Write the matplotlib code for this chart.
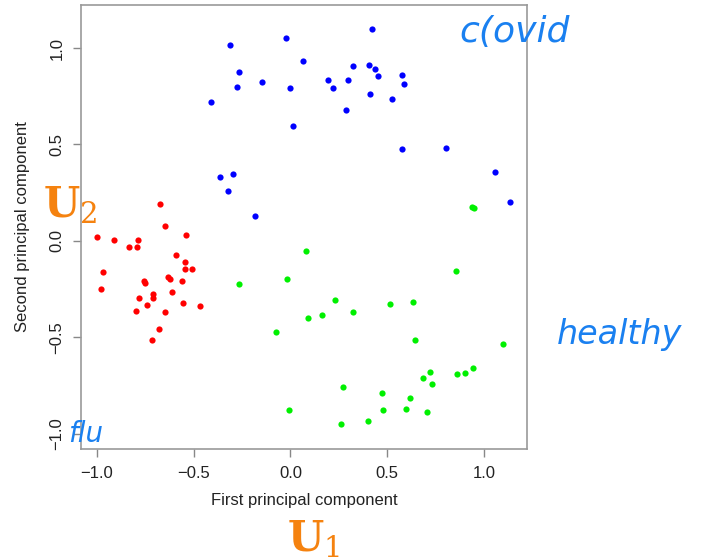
import matplotlib.pyplot as plt

# covid (blue)
covid_x = [-0.313, -0.025, -0.268, 0.066, -0.149, -0.275, -0.003, 0.195, 0.221, -0.411,
           0.015, -0.364, -0.297, -0.323, -0.183, 0.421, 0.325, 0.407, 0.438, 0.296,
           0.454, 0.578, 0.585, 0.411, 0.523, 0.285, 0.578, 0.805, 1.057, 1.136]
covid_y = [1.016, 1.050, 0.876, 0.934, 0.822, 0.800, 0.794, 0.833, 0.794, 0.720,
           0.596, 0.332, 0.347, 0.261, 0.131, 1.100, 0.908, 0.913, 0.893, 0.833,
           0.853, 0.858, 0.813, 0.760, 0.737, 0.680, 0.478, 0.483, 0.358, 0.202]

# flu (red)
flu_x = [-0.673, -0.647, -0.542, -0.998, -0.911, -0.788, -0.833, -0.793, -0.593, -0.547,
         -0.545, -0.507, -0.971, -0.756, -0.750, -0.635, -0.623, -0.559, -0.979, -0.709,
         -0.711, -0.614, -0.785, -0.743, -0.798, -0.554, -0.468, -0.649, -0.680, -0.714]
flu_y = [0.190, 0.078, 0.033, 0.019, 0.005, 0.005, -0.029, -0.034, -0.074, -0.110,
         -0.147, -0.147, -0.159, -0.207, -0.218, -0.185, -0.197, -0.207, -0.247, -0.275,
         -0.297, -0.266, -0.294, -0.333, -0.364, -0.320, -0.337, -0.370, -0.458, -0.513]

# healthy (green)
healthy_x = [0.938, 0.948, 0.082, 0.855, -0.268, -0.016, 0.230, 0.514, 0.633, 0.325,
             0.164, 0.092, -0.075, 0.643, 1.100, 0.723, 0.685, 0.861, 0.903, 0.941,
             0.731, 0.270, 0.473, 0.619, -0.009, 0.476, 0.595, 0.704, 0.401, 0.259]
healthy_y = [0.176, 0.171, -0.052, -0.154, -0.223, -0.199, -0.307, -0.325, -0.316, -0.370,
             -0.383, -0.401, -0.473, -0.513, -0.534, -0.682, -0.708, -0.691, -0.686, -0.660,
             -0.744, -0.758, -0.789, -0.812, -0.877, -0.877, -0.869, -0.886, -0.936, -0.950]

ticks = [-1.0, -0.5, 0.0, 0.5, 1.0]
tick_labels = ["\u22121.0", "\u22120.5", "0.0", "0.5", "1.0"]

plt.rcParams['font.family'] = ['Liberation Sans', 'DejaVu Sans']
plt.rcParams['mathtext.fontset'] = 'dejavuserif'

fig = plt.figure(figsize=(7.18, 5.59), dpi=100)
ax = fig.add_axes([0.1128, 0.197, 0.621, 0.794])

ax.scatter(covid_x, covid_y, s=20, color="#0000ff", linewidths=0, zorder=3)
ax.scatter(flu_x, flu_y, s=20, color="#ff0000", linewidths=0, zorder=3)
ax.scatter(healthy_x, healthy_y, s=20, color="#00f000", linewidths=0, zorder=3)

ax.set_xlim(-1.083, 1.222)
ax.set_ylim(-1.078, 1.223)
ax.set_xticks(ticks)
ax.set_xticklabels(tick_labels)
ax.set_yticks(ticks)
ax.set_yticklabels(tick_labels, rotation=90, va="center")
for s in ax.spines.values():
    s.set_color("#999999")
    s.set_linewidth(1.2)
ax.tick_params(direction="out", length=6, width=1, color="#888888",
               labelsize=12, labelcolor="#222222", pad=6)

ax.set_xlabel("First principal component", fontsize=12, color="#222222", labelpad=9)
ax.set_ylabel("Second principal component", fontsize=12, color="#222222", labelpad=14)

orange = "#f5820f"
fig.text(0.436, 0.035, r"$\mathbf{U}_1$", fontsize=30, color=orange, ha="center", va="center")
fig.text(0.098, 0.633, r"$\mathbf{U}_2$", fontsize=30, color=orange, ha="center", va="center")

# handwritten notes
pen = "#1a80f0"
fig.text(0.64, 0.925, "c(ovid", fontsize=26, color=pen, style="italic",
         family="DejaVu Sans", fontweight="light")
fig.text(0.775, 0.385, "healthy", fontsize=24, color=pen, style="italic",
         family="DejaVu Sans", fontweight="light")
fig.text(0.095, 0.21, "flu", fontsize=20, color=pen, style="italic",
         family="DejaVu Sans", fontweight="light")

fig.savefig("out.png", dpi=100)
